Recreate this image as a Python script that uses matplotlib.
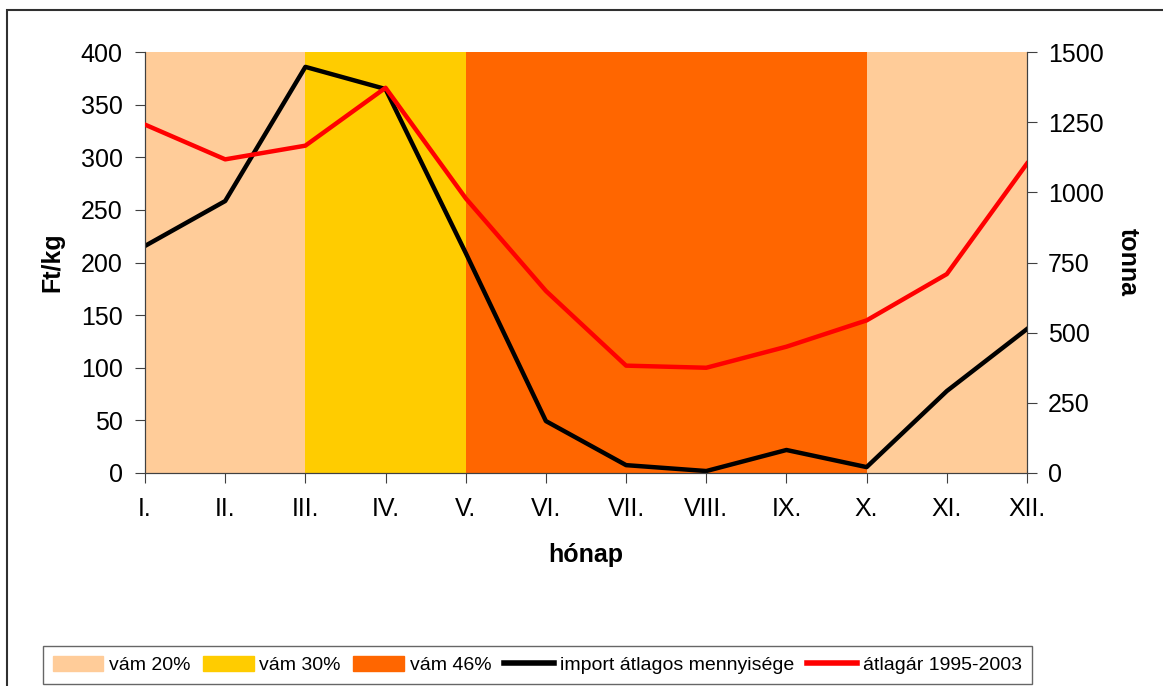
import matplotlib
matplotlib.use("Agg")
from matplotlib import pyplot as plt
from matplotlib.patches import Patch, Rectangle
from matplotlib.lines import Line2D

plt.rcParams['font.family'] = ['Liberation Sans', 'DejaVu Sans']

honap = ["I.", "II.", "III.", "IV.", "V.", "VI.", "VII.", "VIII.", "IX.", "X.", "XI.", "XII."]
import_tonna = [809, 969, 1447, 1368, 784, 185, 28, 7, 82, 21, 292, 513]
atlagar = [331, 298, 311, 366, 261, 173, 102, 100, 120, 145, 189, 294]

# vam savok (kezdo, veg honap index, szin)
vam_start = [0, 2, 4, 9]
vam_end = [2, 4, 9, 11]
vam_szin = ["#FFCC99", "#FFCC00", "#FF6600", "#FFCC99"]

fig = plt.figure(figsize=(11.63, 6.86), dpi=100)
ax = fig.add_axes([145/1163, 1 - 473/686, (1027-145)/1163, (473-52)/686])
ax2 = ax.twinx()

# savok es import a jobb tengelyen, ar a bal tengelyen legfelul
for s, e, c in zip(vam_start, vam_end, vam_szin):
    ax2.axvspan(s, e, color=c, lw=0, zorder=0)
x = list(range(len(honap)))
ax2.plot(x, import_tonna, color="black", lw=3.2, zorder=2)
ax.plot(x, atlagar, color="#FF0000", lw=3.2, zorder=3)
ax.set_zorder(ax2.get_zorder() + 1)
ax.patch.set_visible(False)

ax.set_xlim(0, 11)
ax.set_ylim(0, 400)
ax2.set_ylim(0, 1500)
ax.set_yticks(range(0, 401, 50))
ax2.set_yticks(range(0, 1501, 250))
ax.set_xticks(x)
ax.set_xticklabels(honap)

for a in (ax, ax2):
    a.spines['top'].set_visible(False)
    for sp in a.spines.values():
        sp.set_color("#404040")
    a.tick_params(labelsize=18, length=7, color="#404040", direction="out")
ax.tick_params(axis='x', pad=10)
ax.tick_params(axis='y', pad=9)
ax2.tick_params(axis='y', pad=8)

ax.set_ylabel("Ft/kg", fontsize=18, fontweight="bold", labelpad=12)
ax2.set_ylabel("tonna", fontsize=18, fontweight="bold", rotation=270, labelpad=26)
ax.set_xlabel("hónap", fontsize=18, fontweight="bold", labelpad=16)

handles = [Patch(color=vam_szin[0]), Patch(color=vam_szin[1]), Patch(color=vam_szin[2]),
           Line2D([], [], color="black", lw=4), Line2D([], [], color="#FF0000", lw=4)]
labels = ["vám 20%", "vám 30%", "vám 46%", "import átlagos mennyisége", "átlagár 1995-2003"]
leg = fig.legend(handles, labels, loc="lower left", bbox_to_anchor=(43/1163, 2/686, (1032-43)/1163, 40/686),
                 mode="expand", ncol=5, fontsize=14, frameon=True, fancybox=False,
                 handlelength=2.6, handleheight=0.8, handletextpad=0.3, columnspacing=0.5,
                 borderaxespad=0, borderpad=0.5)
leg.get_frame().set_edgecolor("#404040")
leg.get_frame().set_linewidth(1.0)

# kulso keret
fig.patches.append(Rectangle((7/1163, -0.05), 1.1, 1 - 10/686 + 0.05, transform=fig.transFigure,
                             fill=False, edgecolor="#303030", lw=1.5))

fig.savefig("out.png", dpi=100)
